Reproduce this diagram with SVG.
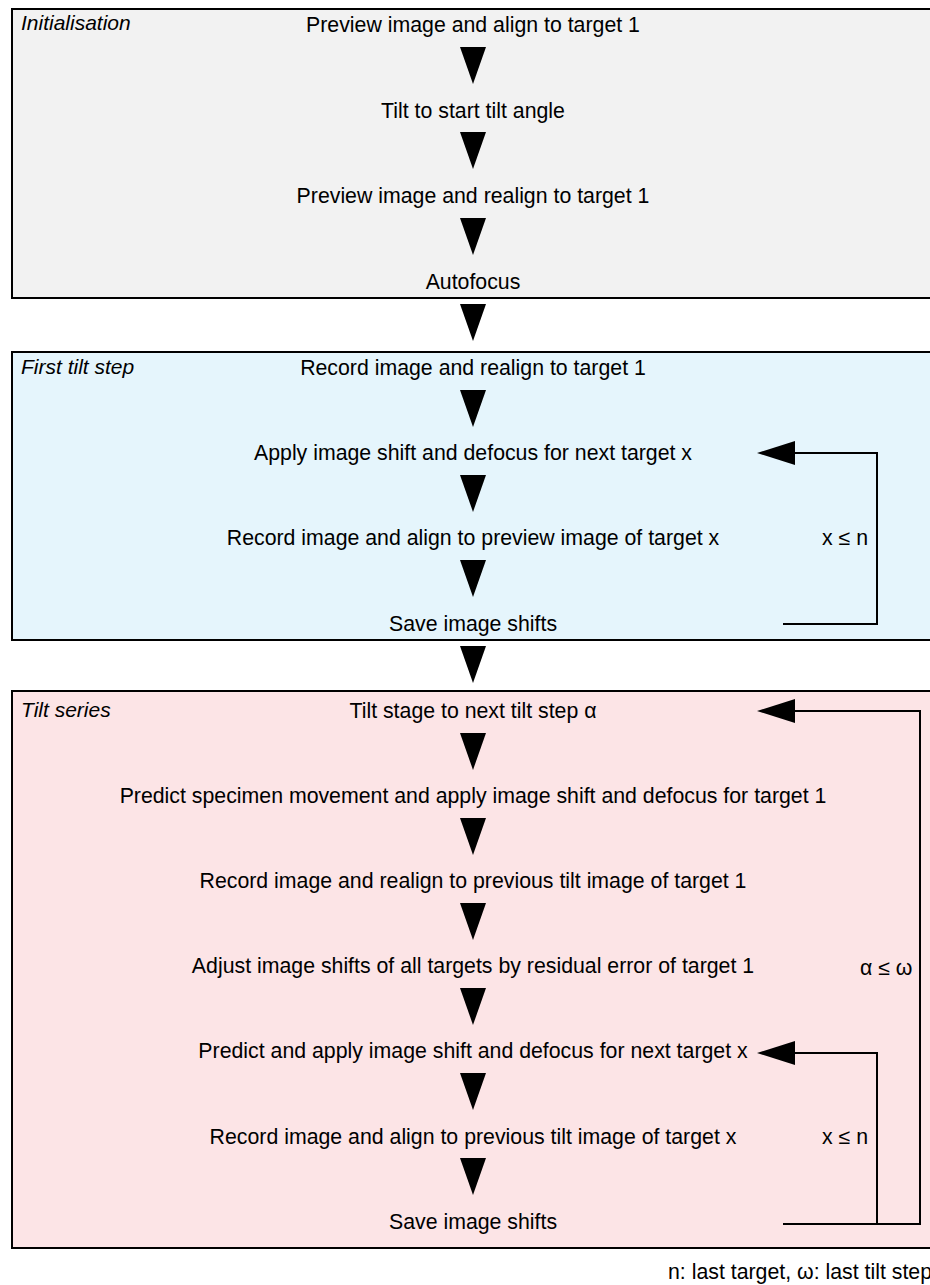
<svg xmlns="http://www.w3.org/2000/svg" width="930" height="1285" viewBox="0 0 930 1285">
<style>
.box{stroke:#000;stroke-width:2}
.t{font-family:"Liberation Sans",Arial,sans-serif;font-size:21.3px;fill:#000;text-anchor:middle}
.lab{font-family:"Liberation Sans",Arial,sans-serif;font-size:21px;font-style:italic;fill:#000}
.c{font-family:"Liberation Sans",Arial,sans-serif;font-size:21.3px;fill:#000}
.ln{fill:none;stroke:#000;stroke-width:2}
.ah{fill:#000}
</style>
<defs>
<polygon id="down" points="-13,0 13,0 0,37" class="ah"/>
<polygon id="left" points="0,0 38,-12 38,12" class="ah"/>
</defs>
<g id="group-init">
<rect class="box" x="12" y="9" width="930" height="289" fill="#f2f2f2"/>
<text class="lab" x="21" y="30">Initialisation</text>
</g>
<g id="group-first">
<rect class="box" x="12" y="352" width="930" height="288" fill="#e5f5fc"/>
<text class="lab" x="21" y="374">First tilt step</text>
</g>
<g id="group-series">
<rect class="box" x="12" y="691" width="930" height="557" fill="#fce4e6"/>
<text class="lab" x="21" y="717">Tilt series</text>
</g>
<g id="n1"><text class="t" x="473" y="32">Preview image and align to target 1</text></g>
<g id="n2"><text class="t" x="473" y="118">Tilt to start tilt angle</text></g>
<g id="n3"><text class="t" x="473" y="203">Preview image and realign to target 1</text></g>
<g id="n4"><text class="t" x="473" y="289">Autofocus</text></g>
<g id="n5"><text class="t" x="473" y="375">Record image and realign to target 1</text></g>
<g id="n6"><text class="t" x="473" y="460">Apply image shift and defocus for next target x</text></g>
<g id="n7"><text class="t" x="473" y="545">Record image and align to preview image of target x</text></g>
<g id="n8"><text class="t" x="473" y="631">Save image shifts</text></g>
<g id="n9"><text class="t" x="473" y="718">Tilt stage to next tilt step α</text></g>
<g id="n10"><text class="t" x="473" y="803">Predict specimen movement and apply image shift and defocus for target 1</text></g>
<g id="n11"><text class="t" x="473" y="888">Record image and realign to previous tilt image of target 1</text></g>
<g id="n12"><text class="t" x="473" y="973">Adjust image shifts of all targets by residual error of target 1</text></g>
<g id="n13"><text class="t" x="473" y="1058">Predict and apply image shift and defocus for next target x</text></g>
<g id="n14"><text class="t" x="473" y="1144">Record image and align to previous tilt image of target x</text></g>
<g id="n15"><text class="t" x="473" y="1229">Save image shifts</text></g>
<g id="connectors">
<use href="#down" x="473" y="47"/>
<use href="#down" x="473" y="132"/>
<use href="#down" x="473" y="218"/>
<use href="#down" x="473" y="304"/>
<use href="#down" x="473" y="390"/>
<use href="#down" x="473" y="475"/>
<use href="#down" x="473" y="560"/>
<use href="#down" x="473" y="646"/>
<use href="#down" x="473" y="733"/>
<use href="#down" x="473" y="818"/>
<use href="#down" x="473" y="903"/>
<use href="#down" x="473" y="988"/>
<use href="#down" x="473" y="1073"/>
<use href="#down" x="473" y="1158"/>
<polyline class="ln" points="783,624 877,624 877,453 790,453"/>
<use href="#left" x="757" y="453"/>
<text class="c" x="822" y="545">x ≤ n</text>
<polyline class="ln" points="783,1224 920,1224 920,711 790,711"/>
<use href="#left" x="757" y="711"/>
<polyline class="ln" points="877,1224 877,1053 790,1053"/>
<use href="#left" x="757" y="1053"/>
<text class="c" x="822" y="1144">x ≤ n</text>
<text class="c" x="860" y="975">α ≤ ω</text>
</g>
<text class="c" x="668" y="1279">n: last target, ω: last tilt step</text>
</svg>
